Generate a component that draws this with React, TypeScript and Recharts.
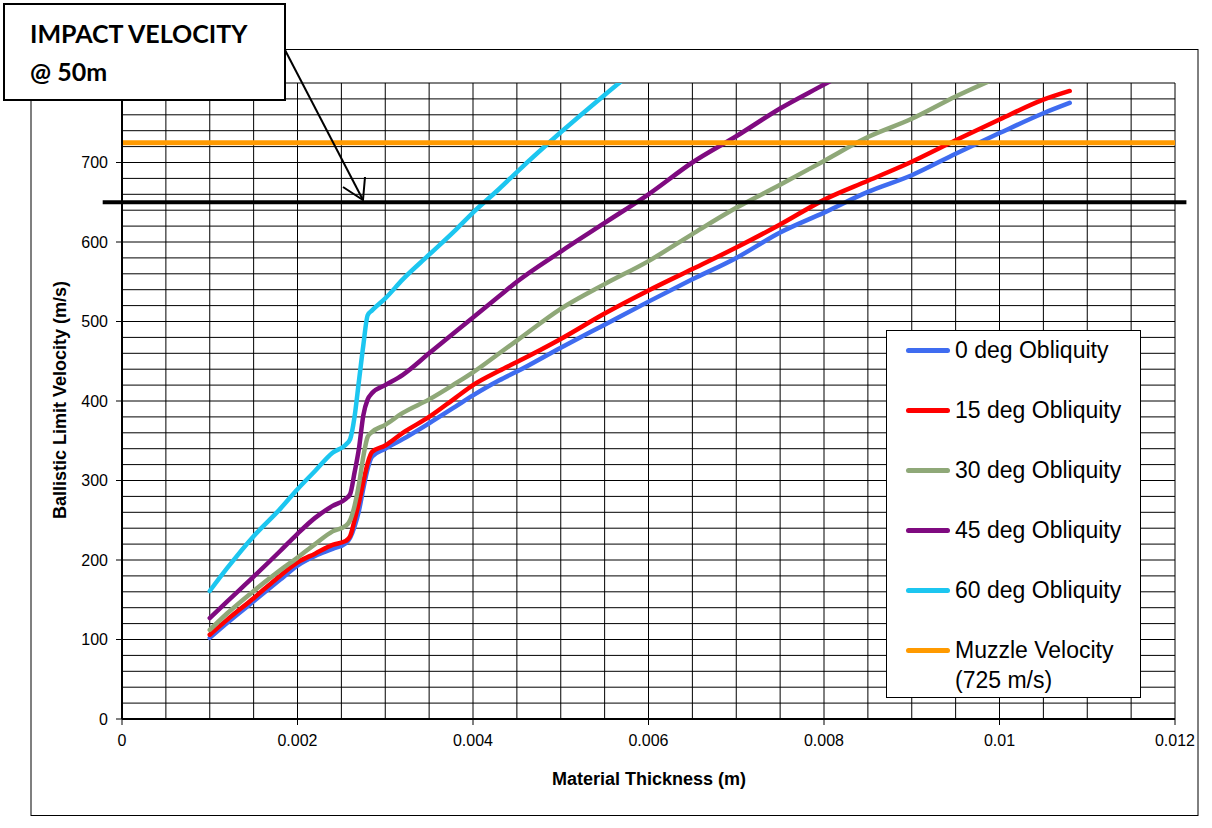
import React from 'react';
import { LineChart, Line, XAxis, YAxis, CartesianGrid, ReferenceLine } from 'recharts';

// Material thickness (m) sample points
const thickness = [
  0.001, 0.0012, 0.0015, 0.0018, 0.002, 0.0022, 0.0024, 0.00255, 0.0026, 0.00265,
  0.0027, 0.00275, 0.0028, 0.00285, 0.003, 0.0032, 0.0035, 0.0038, 0.004, 0.0043,
  0.0045, 0.005, 0.0055, 0.006, 0.0065, 0.007, 0.0075, 0.008, 0.0085, 0.009,
  0.0095, 0.01, 0.0105, 0.0108,
];

// Ballistic limit velocity (m/s)
const deg0 = [
  102, 121, 148, 175, 193, 205, 214, 221, 228, 242,
  262, 290, 315, 330, 340, 352, 372, 393, 407, 426,
  437, 467, 496, 525, 553, 580, 612, 637, 663, 684,
  711, 737, 762, 775,
];
const deg15 = [
  106, 125, 152, 180, 197, 208, 219, 224, 230, 250,
  272, 298, 322, 336, 344, 360, 380, 404, 420, 438,
  449, 478, 510, 539, 566, 593, 622, 653, 677, 701,
  728, 754, 779, 790,
];
const deg30 = [
  112, 133, 161, 187, 203, 220, 236, 243, 250, 268,
  295, 330, 355, 361, 370, 385, 402, 422, 436, 460,
  476, 516, 547, 576, 610, 643, 672, 702, 732, 755,
  783, 808, null, null,
];
const deg45 = [
  127, 148, 179, 211, 233, 253, 268, 277, 283, 310,
  340, 382, 402, 410, 420, 433, 460, 487, 505, 532,
  550, 588, 624, 660, 700, 733, 768, 798, 828, null,
  null, null, null, null,
];
const deg60 = [
  161, 190, 230, 264, 289, 312, 335, 345, 352, 380,
  425, 470, 508, 514, 529, 553, 584, 615, 637, 667,
  688, 738, 785, 830, null, null, null, null, null, null,
  null, null, null, null,
];
const muzzleThickness = [0, 0.012];
const muzzleVelocity = [725, 725];
const impactVelocity = 650;
const impactSpan = [-0.00022, 0.01213];

const xTicks = [0, 0.002, 0.004, 0.006, 0.008, 0.01, 0.012];
const yTicks = [0, 100, 200, 300, 400, 500, 600, 700];
const xGridStep = 0.0005;
const yGridStep = 20;

const seriesDefs = [
  { name: '0 deg Obliquity', color: '#3F6CF0', xs: thickness, ys: deg0 },
  { name: '15 deg Obliquity', color: '#FF0000', xs: thickness, ys: deg15 },
  { name: '30 deg Obliquity', color: '#8FA878', xs: thickness, ys: deg30 },
  { name: '45 deg Obliquity', color: '#7F0A80', xs: thickness, ys: deg45 },
  { name: '60 deg Obliquity', color: '#1CC6F0', xs: thickness, ys: deg60 },
  { name: 'Muzzle Velocity', sub: '(725 m/s)', color: '#FF9A00', xs: muzzleThickness, ys: muzzleVelocity },
];

const toRows = (xs: number[], ys: (number | null)[]) =>
  xs.map((x, i) => ({ x, v: ys[i] })).filter((r) => r.v !== null && r.v !== undefined);

const xGrid = Array.from({ length: 25 }, (_, i) => +(i * xGridStep).toFixed(5));
const yGrid = Array.from({ length: 41 }, (_, i) => i * yGridStep);

const FONT = '"Liberation Sans", Arial, sans-serif';

export default function App() {
  return (
    <div style={{ position: 'absolute', left: 0, top: 0, width: 1212, height: 828, background: '#fff' }}>
      <LineChart width={1212} height={828} margin={{ top: 83, right: 37, bottom: 79, left: 62 }}>
        <CartesianGrid
          stroke="#000"
          strokeWidth={1}
          horizontalValues={yGrid}
          verticalValues={xGrid}
        />
        <XAxis
          type="number"
          dataKey="x"
          domain={[0, 0.012]}
          ticks={xTicks}
          interval={0}
          allowDataOverflow
          height={30}
          tickSize={6}
          tickMargin={10}
          tickFormatter={(v: number) => String(v)}
          tick={{ fill: '#000', fontSize: 16, fontFamily: FONT }}
          tickLine={{ stroke: '#000' }}
          axisLine={{ stroke: '#000', strokeWidth: 2 }}
        />
        <YAxis
          type="number"
          domain={[0, 800]}
          ticks={yTicks}
          interval={0}
          allowDataOverflow
          width={60}
          tickSize={6}
          tickMargin={8}
          tick={{ fill: '#000', fontSize: 16, fontFamily: FONT }}
          tickLine={{ stroke: '#000' }}
          axisLine={{ stroke: '#000', strokeWidth: 2 }}
        />
        {seriesDefs.map((s) => (
          <Line
            key={s.name}
            data={toRows(s.xs, s.ys)}
            dataKey="v"
            name={s.name}
            type={s.sub ? 'linear' : 'monotone'}
            stroke={s.color}
            strokeWidth={s.sub ? 5 : 4.5}
            strokeLinecap="round"
            strokeLinejoin="round"
            dot={false}
            activeDot={false}
            isAnimationActive={false}
          />
        ))}
        <ReferenceLine
          ifOverflow="visible"
          segment={[
            { x: impactSpan[0], y: impactVelocity },
            { x: impactSpan[1], y: impactVelocity },
          ]}
          stroke="#000"
          strokeWidth={4}
        />
      </LineChart>

      {/* Legend */}
      <div
        style={{
          position: 'absolute',
          left: 886,
          top: 330,
          width: 253,
          height: 366,
          border: '1px solid #000',
          background: '#fff',
          fontFamily: FONT,
          fontSize: 23,
          color: '#000',
        }}
      >
        {seriesDefs.map((s, i) => (
          <div key={s.name} style={{ position: 'absolute', left: 19, top: 3 + i * 60, height: 32 }}>
            <div
              style={{
                position: 'absolute',
                left: 0,
                top: 14,
                width: 44,
                height: 5,
                borderRadius: 3,
                background: s.color,
              }}
            />
            <div style={{ position: 'absolute', left: 49, top: 1, whiteSpace: 'nowrap', lineHeight: '30px' }}>
              {s.name}
              {s.sub ? <br /> : null}
              {s.sub ?? null}
            </div>
          </div>
        ))}
      </div>

      {/* Frame, titles and annotation */}
      <svg
        width={1212}
        height={828}
        style={{ position: 'absolute', left: 0, top: 0, pointerEvents: 'none' }}
      >
        <rect x={31} y={49.5} width={1167} height={766} fill="none" stroke="#000" strokeWidth={1} />
        <text
          x={649}
          y={785}
          textAnchor="middle"
          fontFamily={FONT}
          fontWeight="bold"
          fontSize={18}
          fill="#000"
        >
          Material Thickness (m)
        </text>
        <text
          x={0}
          y={0}
          transform="translate(66,400) rotate(-90)"
          textAnchor="middle"
          fontFamily={FONT}
          fontWeight="bold"
          fontSize={18}
          fill="#000"
        >
          Ballistic Limit Velocity (m/s)
        </text>
        <line x1={285} y1={50} x2={363} y2={200} stroke="#000" strokeWidth={2} />
        <polyline points="343,187 363,200 365,177" fill="none" stroke="#000" strokeWidth={2} />
        <rect x={4} y={4} width={281} height={96} fill="#fff" stroke="#000" strokeWidth={2} />
        <text x={30} y={43} fontFamily="Lato, 'Open Sans', sans-serif" fontWeight="bold" fontSize={25} fill="#000">
          IMPACT VELOCITY
        </text>
        <text x={30} y={81} fontFamily="Lato, 'Open Sans', sans-serif" fontWeight="bold" fontSize={25} fill="#000">
          @ 50m
        </text>
      </svg>
    </div>
  );
}
